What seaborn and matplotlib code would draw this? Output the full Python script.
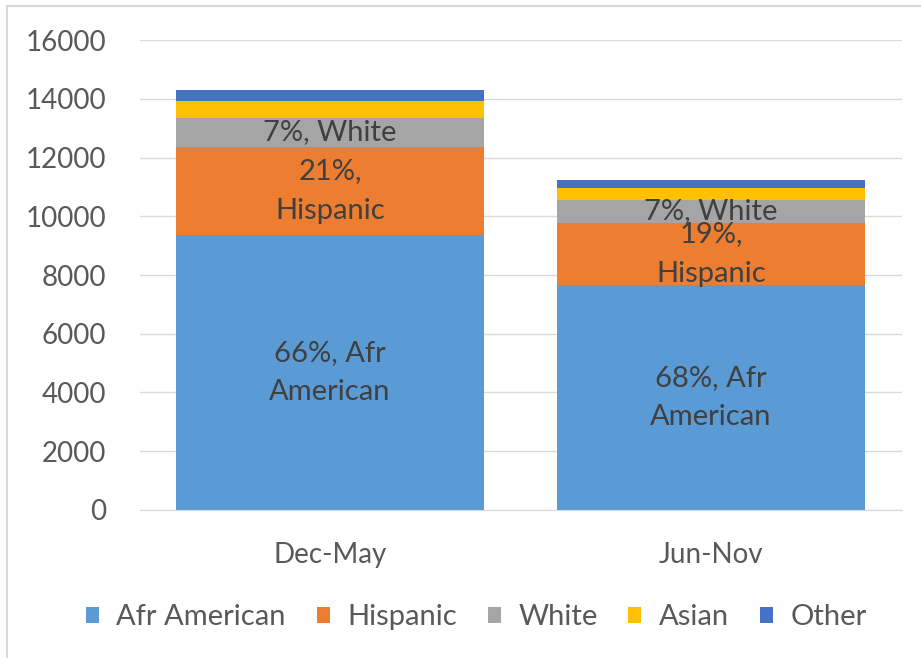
import matplotlib
matplotlib.use('Agg')
import numpy as np
import pandas as pd
import matplotlib.pyplot as plt
import seaborn as sns

periods = ['Dec-May', 'Jun-Nov']
groups = ['Afr American', 'Hispanic', 'White', 'Asian', 'Other']
afr_american = [9360, 7660]
hispanic = [3010, 2120]
white = [990, 770]
asian = [580, 430]
other = [350, 250]
labels = {
    'Afr American': ['66%, Afr\nAmerican', '68%, Afr\nAmerican'],
    'Hispanic': ['21%,\nHispanic', '19%,\nHispanic'],
    'White': ['7%, White', '7%, White'],
}
colors = ['#5B9BD5', '#ED7D31', '#A5A5A5', '#FFC000', '#4472C4']

sns.set_style('white')
plt.rcParams['font.family'] = ['Lato', 'DejaVu Sans']

values = [afr_american, hispanic, white, asian, other]
df = pd.DataFrame({'period': np.repeat(periods, len(groups)),
                   'group': groups * len(periods),
                   'count': np.array(values).T.ravel()})

fig = plt.figure(figsize=(9.21, 6.58), dpi=100)
ax = fig.add_axes([0.1515, 0.225, 0.8275, 0.714])

bottom = np.zeros(len(periods))
for grp, col in zip(groups, colors):
    sub = df[df['group'] == grp]
    sns.barplot(data=sub, x='period', y='count', color=col, bottom=bottom,
                width=0.81, ax=ax, label=grp, edgecolor='none', saturation=1)
    if grp in labels:
        for i, (v, b) in enumerate(zip(sub['count'].values, bottom)):
            ax.text(i, b + v / 2, labels[grp][i], ha='center', va='center',
                    fontsize=21, color='#404040', linespacing=1.65)
    bottom = bottom + sub['count'].values

ax.set_ylim(0, 16000)
ax.set_xlim(-0.5, 1.5)
ax.set_yticks(range(0, 16001, 2000))
ax.yaxis.grid(True, color='#D9D9D9', linewidth=1)
ax.set_axisbelow(True)
for s in ['top', 'right', 'left']:
    ax.spines[s].set_visible(False)
ax.spines['bottom'].set_color('#D9D9D9')
ax.tick_params(axis='both', length=0, labelsize=20, colors='#595959')
ax.tick_params(axis='x', pad=23)
ax.tick_params(axis='y', pad=24)
ax.set_xlabel('')
ax.set_ylabel('')

if ax.legend_:
    ax.legend_.remove()
handles, names = ax.get_legend_handles_labels()
leg = fig.legend(handles, names, loc='center', bbox_to_anchor=(0.517, 0.062), ncol=5,
                 frameon=False, fontsize=21, handlelength=0.45, handleheight=0.45,
                 columnspacing=1.05, handletextpad=0.6)
for t in leg.get_texts():
    t.set_color('#595959')

fig.add_artist(plt.Line2D([0.0076, 1.0], [0.991, 0.991], transform=fig.transFigure,
                          color='#D9D9D9', linewidth=1.5))
fig.add_artist(plt.Line2D([0.0076, 0.0076], [0.0, 0.991], transform=fig.transFigure,
                          color='#D9D9D9', linewidth=1.5))

fig.savefig('out.png', dpi=100)
